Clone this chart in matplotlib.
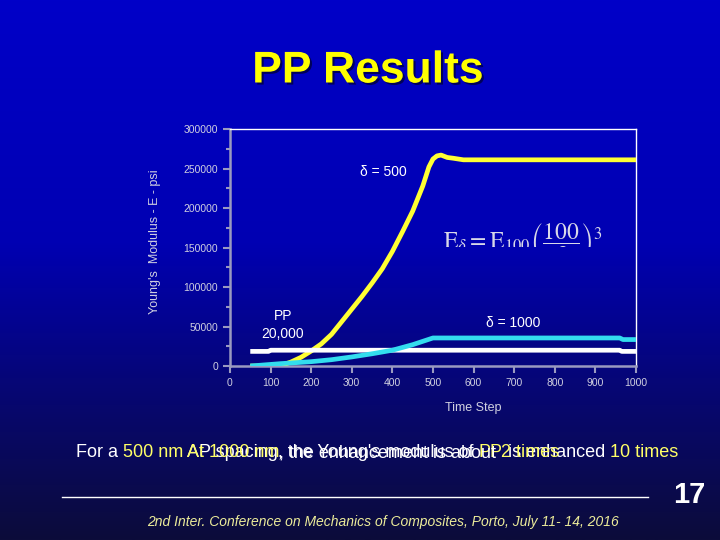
import numpy as np
import matplotlib
matplotlib.use("Agg")
import matplotlib.pyplot as plt
from matplotlib.ticker import MultipleLocator
from matplotlib.patches import Rectangle
from matplotlib.text import Annotation
import matplotlib.patheffects as pe

plt.rcParams['font.family'] = ['Liberation Sans', 'DejaVu Sans']
plt.rcParams['mathtext.fontset'] = 'stix'

# data
t_500 = [50, 100, 125, 150, 175, 200, 225, 250, 275, 300, 325, 350, 375, 400,
         425, 450, 475, 490, 500, 510, 520, 535, 550, 575, 1000]
e_500 = [0, 0, 500, 5000, 11000, 19000, 28000, 40000, 56000, 72000, 88000,
         105000, 123000, 145000, 170000, 196000, 228000, 252000, 262000,
         266000, 267000, 264000, 263000, 261000, 261000]

t_1000 = [50, 125, 200, 250, 300, 350, 400, 450, 500, 960, 968, 1000]
e_1000 = [0, 3000, 5500, 8000, 11500, 15500, 20000, 27000, 35500, 35500, 33500, 33500]

t_pp = [50, 95, 100, 960, 965, 1000]
e_pp = [18500, 18500, 20000, 20000, 18500, 18500]

fig = plt.figure(figsize=(7.2, 5.4), dpi=100)

# slide background gradient
bg = fig.add_axes([0, 0, 1, 1])
rows = np.linspace(0, 1, 300)
stops = [0.0, 0.45, 0.7, 1.0]
r = np.interp(rows, stops, [0, 0, 6, 12]) / 255
g = np.interp(rows, stops, [0, 0, 6, 12]) / 255
b = np.interp(rows, stops, [200, 178, 120, 58]) / 255
grad = np.dstack([r, g, b]).reshape(300, 1, 3)
bg.imshow(grad, aspect='auto', extent=[0, 1, 0, 1])
bg.set_xlim(0, 1)
bg.set_ylim(0, 1)
bg.axis('off')

ax = fig.add_axes([0.3194, 0.3222, 0.5639, 0.4389])
ax.patch.set_alpha(0)
ax.plot(t_500, e_500, color='#ffff33', lw=3.4, solid_capstyle='butt', zorder=3)
ax.plot(t_pp, e_pp, color='white', lw=3.4, solid_capstyle='butt', zorder=4)
ax.plot(t_1000, e_1000, color='#33ddee', lw=3.4, solid_capstyle='butt', zorder=5)

ax.set_xlim(0, 1000)
ax.set_ylim(0, 300000)
ax.xaxis.set_major_locator(MultipleLocator(100))
ax.yaxis.set_major_locator(MultipleLocator(50000))
ax.yaxis.set_minor_locator(MultipleLocator(25000))
for s in ['top', 'right']:
    ax.spines[s].set_color('white')
    ax.spines[s].set_linewidth(1)
for s in ['left', 'bottom']:
    ax.spines[s].set_color('#9a9ac0')
    ax.spines[s].set_linewidth(1.8)
ax.tick_params(colors='#9a9ac0', labelcolor='#d0d0e0', labelsize=7.5,
               width=1.5, length=5)
ax.tick_params(which='minor', colors='#9a9ac0', width=1.5, length=3)

ax.text(379, 245000, 'δ = 500', color='white', fontsize=10, ha='center', va='center')
ax.text(697, 54000, 'δ = 1000', color='white', fontsize=10, ha='center', va='center')
ax.text(130, 52000, 'PP\n20,000', color='white', fontsize=10, ha='center', va='center',
        linespacing=1.3)

# equation picture on the slide is cut off half way down
formula = ax.text(525, 148000, r'$\mathrm{E}_\delta = \mathrm{E}_{100}\left(\dfrac{100}{\delta}\right)^3$',
                  color='#d8d8e8', fontsize=17, ha='left', va='baseline')
clip = Rectangle((0.55, 1 - 247 / 540), 0.4, 0.2, transform=fig.transFigure, visible=False)
fig.add_artist(clip)
formula.set_clip_on(True)
formula.set_clip_path(clip)

fig.text(155 / 720, 1 - 242 / 540, "Young's  Modulus - E - psi", color='#d0d0e0',
         fontsize=9, rotation=90, ha='center', va='center')
fig.text(473 / 720, 1 - 408 / 540, 'Time Step', color='#d0d0e0', fontsize=9,
         ha='center', va='center')

fig.text(368 / 720, 1 - 71 / 540, 'PP Results', color='#ffff00', fontsize=32,
         fontweight='bold', ha='center', va='center',
         path_effects=[pe.withSimplePatchShadow(offset=(1.5, -1.5), shadow_rgbFace='#000040', alpha=0.8)])

yel = '#ffff66'
line1 = [('For a ', 'white'), ('500 nm', yel), (' AP spacing, the Young\'s modulus of ', 'white'),
         ('PP', yel), (' is enhanced ', 'white'), ('10 times', yel)]
line2 = [('At 1000 nm', yel), (', the enhancement is about ', 'white'), ('2 times', yel)]


def chain(parts, x0, y0, size=13):
    prev = fig.text(x0, y0, parts[0][0], color=parts[0][1], fontsize=size, ha='left', va='bottom')
    for txt, col in parts[1:]:
        prev = fig.add_artist(Annotation(txt, xy=(1, 0), xycoords=prev, color=col,
                                         fontsize=size, ha='left', va='bottom'))
    return prev


# the two sentences sit on top of each other on the slide
chain(line1, 76 / 720, 1 - 461 / 540)
chain(line2, 187 / 720, 1 - 461 / 540)

fig.add_artist(plt.Line2D([62 / 720, 648 / 720], [1 - 497 / 540] * 2, color='white', lw=1))
fig.text(689 / 720, 1 - 495 / 540, '17', color='white', fontsize=21, fontweight='bold',
         ha='center', va='center')
fig.text(383 / 720, 1 - 522 / 540,
         '2nd Inter. Conference on Mechanics of Composites, Porto, July 11- 14, 2016',
         color='#ecec9a', fontsize=10, style='italic', ha='center', va='center')

fig.savefig('out.png', dpi=100)
